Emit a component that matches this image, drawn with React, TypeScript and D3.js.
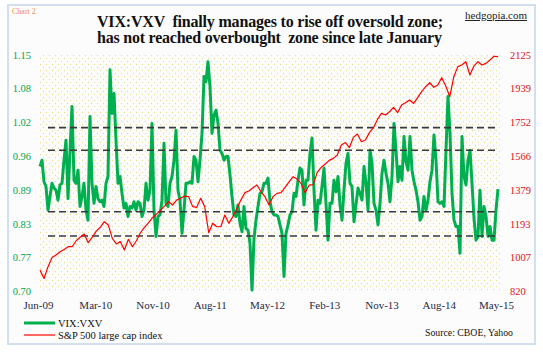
import React from "react";
import * as d3 from "d3";

// VIX:VXV ratio, roughly one reading every ~10 days, Jun-09 .. May-15
const vixVxv = [
  0.938, 0.950, 0.909, 0.900, 0.855, 0.881, 0.906, 0.897, 0.893, 0.874,
  0.903, 0.906, 0.950, 0.988, 0.877, 0.969, 1.052, 0.912, 0.906, 0.931,
  0.862, 0.881, 0.906, 0.855, 0.836, 1.033, 0.906, 0.868, 0.900, 0.877,
  0.871, 0.874, 0.862, 0.906, 0.919, 1.122, 1.039, 1.077, 0.988, 0.906,
  0.919, 0.887, 0.859, 0.868, 0.843, 0.862, 0.859, 0.871, 0.855, 0.871,
  0.868, 0.843, 0.855, 0.906, 0.874, 0.893, 1.020, 0.855,
  0.805, 0.843, 0.846, 0.874, 0.982, 0.868, 0.862, 0.906, 0.919, 0.950,
  1.007, 0.893, 0.874, 0.811, 0.855, 0.906, 0.906, 0.909, 0.906, 0.957,
  0.950, 0.909, 0.950, 1.001, 1.109, 1.099, 1.137, 1.090, 1.001, 1.036,
  1.045, 1.020, 0.969, 0.963, 0.950, 0.957, 0.957, 0.922, 0.881, 0.846,
  0.843, 0.865, 0.830, 0.814, 0.862, 0.820, 0.817, 0.792, 0.703, 0.801,
  0.836, 0.862, 0.887, 0.890, 0.906, 0.906, 0.916,
  0.871, 0.852, 0.846, 0.846, 0.843, 0.827, 0.811, 0.729, 0.811, 0.827,
  0.846, 0.852, 0.887, 0.881, 0.912, 0.935, 0.931, 0.865, 0.912, 0.912,
  0.963, 0.992, 0.893, 0.817, 0.874, 0.868, 0.900, 0.935, 0.868, 0.798,
  0.868, 0.868, 0.912, 0.890, 0.919, 0.865, 0.836, 0.893, 0.944, 0.963,
  0.906, 0.900, 0.833, 0.865, 0.897, 0.887, 0.874, 0.938, 0.906, 0.855,
  0.969, 0.944, 0.868, 0.855, 0.827, 0.868, 0.925, 0.950,
  0.925, 0.906, 0.871, 0.919, 1.020, 0.969, 0.909, 0.938, 0.912, 0.995,
  0.947, 0.931, 0.995, 0.931, 0.909, 0.893, 0.871, 0.836, 0.843, 0.881,
  0.855, 0.874, 0.909, 0.931, 0.998, 0.950, 0.871, 0.868, 0.871, 0.862,
  0.969, 1.071, 1.001, 0.887, 0.836, 0.824, 0.824, 0.773, 0.995, 0.919,
  0.903, 0.950, 0.969, 0.906, 0.840, 0.798, 0.805, 0.893, 0.805, 0.862,
  0.843, 0.805, 0.824, 0.798, 0.798, 0.855, 0.895,
];

// S&P 500 large cap index over the same period
const spx = [
  939, 893, 958, 1009, 1022, 1040, 1053, 1068, 1068, 1101, 1120, 1138, 1090, 1120, 1154,
  1175, 1206, 1188, 1114, 1083, 1096, 1050, 1109, 1068, 1101, 1145, 1175, 1200, 1228,
  1248, 1270, 1292, 1316, 1298, 1325, 1335, 1347, 1344, 1289, 1285, 1335, 1289, 1145, 1197,
  1178, 1178, 1243, 1197, 1234, 1279, 1325, 1366, 1375, 1393, 1408, 1371, 1344, 1298,
  1344, 1362, 1366, 1395, 1425, 1454, 1441, 1417, 1366, 1408, 1410, 1478, 1506, 1524, 1544,
  1555, 1574, 1629, 1642, 1614, 1671, 1689, 1647, 1656, 1697, 1724, 1770, 1803, 1794,
  1812, 1836, 1807, 1849, 1862, 1877, 1858, 1890, 1923, 1950, 1972, 1947, 1960, 2000, 1954,
  1895, 2005, 2061, 2070, 2088, 2015, 2064, 2088, 2070, 2079, 2097, 2118, 2116,
];

const leftTickValues = [0.70, 0.7643, 0.8286, 0.8929, 0.9571, 1.0214, 1.0857, 1.15];
const leftTickLabels = ["0.70", "0.77", "0.83", "0.89", "0.96", "1.02", "1.08", "1.15"];
const rightTicks = [820, 1007, 1193, 1379, 1566, 1752, 1939, 2125];
const xTickLabels = ["Jun-09", "Mar-10", "Nov-10", "Aug-11", "May-12", "Feb-13", "Nov-13", "Aug-14", "May-15"];

// overbought / oversold zone lines
const zoneLevels = [1.012, 0.969, 0.852, 0.806];
const zoneStartIndex = 4;

const W = 543;
const H = 354;
const plot = { left: 40, right: 498, top: 55, bottom: 291.7 };
const serif = "'Liberation Serif', 'Times New Roman', serif";
const green = "#00b050";
const red = "#ff0000";

export default function App() {
  const x = d3.scaleLinear().domain([0, vixVxv.length - 1]).range([plot.left, plot.right]);
  const yL = d3.scaleLinear().domain([0.70, 1.15]).range([plot.bottom, plot.top]);
  const yR = d3.scaleLinear().domain([820, 2125]).range([plot.bottom, plot.top]);
  const redStep = (vixVxv.length - 1) / (spx.length - 1);
  const xTickStep = (vixVxv.length - 1) / (xTickLabels.length - 1);

  const greenPath = d3.line<number>().x((_, i) => x(i)).y((d) => yL(d))(vixVxv) || "";
  const redPath = d3.line<number>().x((_, i) => x(i * redStep)).y((d) => yR(d))(spx) || "";

  return (
    <svg width={W} height={H} style={{ position: "absolute", left: 0, top: 0, background: "#fff" }}>
      <defs>
        <pattern id="dots" width="6" height="6" patternUnits="userSpaceOnUse">
          <circle cx="1.5" cy="1.5" r="0.65" fill="#ebe08a" />
          <circle cx="4.5" cy="4.5" r="0.65" fill="#ebe08a" />
        </pattern>
      </defs>

      {/* frame */}
      <rect x={8} y={5} width={527} height={339} fill="#fcfcfc" stroke="#d2dfee" strokeWidth={2} />

      {/* plot area */}
      <rect x={plot.left - 2} y={plot.top} width={plot.right - plot.left + 4} height={plot.bottom - plot.top} fill="url(#dots)" />

      <text x={12} y={14} fontFamily={serif} fontSize={8} fill="#f0904a">Chart 2</text>
      <text x={97} y={26.5} fontFamily={serif} fontSize={16} fontWeight="bold" fill="#111" textLength={346} lengthAdjust="spacing" style={{ whiteSpace: "pre" }}>
        {"VIX:VXV  finally manages to rise off oversold zone;"}
      </text>
      <text x={97} y={43} fontFamily={serif} fontSize={16} fontWeight="bold" fill="#111" textLength={345} lengthAdjust="spacing" style={{ whiteSpace: "pre" }}>
        {"has not reached overbought  zone since late January"}
      </text>
      <text x={465} y={19} fontFamily={serif} fontSize={10} fill="#222" textDecoration="underline" textLength={62} lengthAdjust="spacingAndGlyphs">
        hedgopia.com
      </text>

      {/* left axis */}
      {leftTickValues.map((v, i) => (
        <text key={"l" + i} x={31} y={yL(v) + 3.5} textAnchor="end" fontFamily={serif} fontSize={10.5} fill="#00a651">
          {leftTickLabels[i]}
        </text>
      ))}
      {/* right axis */}
      {rightTicks.map((v) => (
        <text key={"r" + v} x={510} y={yR(v) + 3.5} fontFamily={serif} fontSize={10.5} fill="#e0101a">
          {v}
        </text>
      ))}
      {/* x axis */}
      {xTickLabels.map((t, i) => (
        <text key={t} x={x(i * xTickStep) - 1.5} y={309} textAnchor="middle" fontFamily={serif} fontSize={11} fill="#1f2a44">
          {t}
        </text>
      ))}

      <path d={greenPath} fill="none" stroke={green} strokeWidth={3} strokeLinejoin="round" />

      {zoneLevels.map((v) => (
        <line key={v} x1={x(zoneStartIndex)} x2={plot.right + 1} y1={yL(v)} y2={yL(v)} stroke="#3a3a3a" strokeWidth={1.6} strokeDasharray="7,4" />
      ))}

      <path d={redPath} fill="none" stroke={red} strokeWidth={1.2} strokeLinejoin="round" />

      {/* legend */}
      <line x1={24} x2={55} y1={323} y2={323} stroke={green} strokeWidth={3} />
      <text x={58} y={327} fontFamily={serif} fontSize={10.5} fill="#111">VIX:VXV</text>
      <line x1={24} x2={55} y1={335} y2={335} stroke={red} strokeWidth={1.2} />
      <text x={58} y={339} fontFamily={serif} fontSize={10.5} fill="#111">S&amp;P 500 large cap index</text>

      <text x={425} y={336} fontFamily={serif} fontSize={9.5} fill="#111" textLength={88} lengthAdjust="spacingAndGlyphs">
        Source: CBOE, Yahoo
      </text>
    </svg>
  );
}
